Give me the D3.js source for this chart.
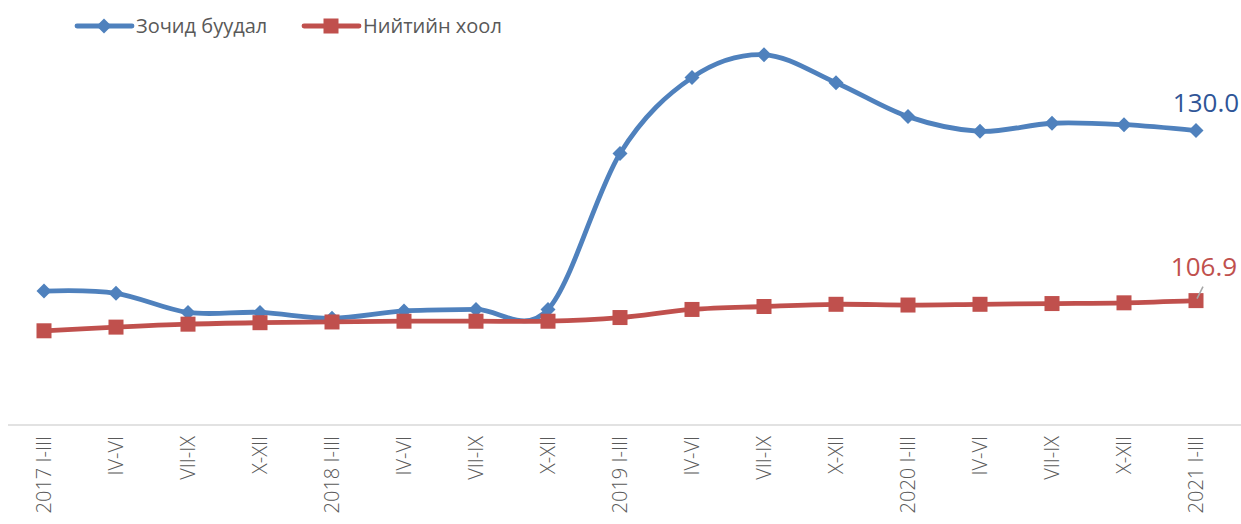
<!DOCTYPE html>
<html>
<head>
<meta charset="utf-8">
<script src="https://cdn.jsdelivr.net/npm/d3@7"></script>
<style>
    body { margin: 0; background: #fff; }
    text { font-family: "Open Sans", "Noto Sans", sans-serif; }
</style>
</head>
<body>
<div id="chart"></div>
<script>
let categories = ["2017 I-III", "IV-VI", "VII-IX", "X-XII", "2018 I-III", "IV-VI", "VII-IX", "X-XII",
    "2019 I-III", "IV-VI", "VII-IX", "X-XII", "2020 I-III", "IV-VI", "VII-IX", "X-XII", "2021 I-III"];
let hotelValues = [108.2, 107.9, 105.3, 105.3, 104.5, 105.5, 105.7, 105.7,
    126.9, 137.2, 140.3, 136.5, 131.9, 129.9, 131.0, 130.8, 130.0];
let foodValues = [102.8, 103.3, 103.7, 103.9, 104.0, 104.1, 104.1, 104.1,
    104.6, 105.7, 106.1, 106.4, 106.3, 106.4, 106.5, 106.6, 106.9];
let seriesNames = ["Зочид буудал", "Нийтийн хоол"];
let yDomain = [90, 145];

let width = 1241, height = 524;
let margin = { "top": 20, "bottom": 99, "left": 8, "right": 9 };
let blue = "#4f81bd", red = "#c0504d";

let svg = d3.select("#chart").append("svg").attr("width", width).attr("height", height);

// categories repeat (IV-VI etc.), so the band scale works on indices
let xScale = d3.scaleBand()
    .domain(d3.range(categories.length))
    .range([margin.left, width - margin.right]);
let yScale = d3.scaleLinear()
    .domain(yDomain)
    .range([height - margin.bottom, height - margin.bottom - (yDomain[1] - yDomain[0]) * 7.36]);

let cx = function (d, i) { return xScale(i) + xScale.bandwidth() / 2; };

// x axis
let xAxis = d3.axisBottom(xScale)
    .tickSize(0)
    .tickPadding(0)
    .tickFormat(function (i) { return categories[i]; });
let gx = svg.append("g")
    .attr("transform", "translate(0," + yScale(yDomain[0]) + ")")
    .call(xAxis);
gx.select(".domain").attr("stroke", "#d9d9d9").attr("stroke-width", 1.5)
    .attr("d", "M" + margin.left + ",0H" + width);
gx.selectAll(".tick text")
    .attr("transform", "rotate(-90)")
    .attr("text-anchor", "end")
    .attr("x", -11)
    .attr("y", 0)
    .attr("dy", "0.35em")
    .attr("fill", "#595959")
    .style("font-size", "20px")
    .style("font-weight", 300)
    .style("font-family", "'Open Sans', sans-serif");

let line = d3.line()
    .x(cx)
    .y(function (d) { return yScale(d); })
    .curve(d3.curveCardinal);

function drawSeries(values, color, marker) {
    svg.append("path")
        .attr("d", line(values))
        .attr("fill", "none")
        .attr("stroke", color)
        .attr("stroke-width", 4.8)
        .attr("stroke-linecap", "round");
    let g = svg.append("g");
    values.forEach(function (v, i) {
        let x = cx(v, i), y = yScale(v);
        if (marker === "diamond") {
            g.append("path")
                .attr("d", "M" + x + "," + (y - 7.5) + "L" + (x + 7.5) + "," + y + "L" + x + "," + (y + 7.5) + "L" + (x - 7.5) + "," + y + "Z")
                .attr("fill", color);
        } else {
            g.append("rect")
                .attr("x", x - 7.5).attr("y", y - 7.5)
                .attr("width", 15).attr("height", 15)
                .attr("fill", color);
        }
    });
}

drawSeries(hotelValues, blue, "diamond");
drawSeries(foodValues, red, "square");

// end labels
let last = categories.length - 1;
svg.append("text")
    .attr("x", cx(0, last) + 10)
    .attr("y", yScale(hotelValues[last]) - 19)
    .attr("text-anchor", "middle")
    .attr("fill", "#2f5597")
    .style("font-size", "26px")
    .text(hotelValues[last].toFixed(1));
svg.append("line")
    .attr("x1", cx(0, last) + 1).attr("y1", yScale(foodValues[last]) - 2)
    .attr("x2", cx(0, last) + 7).attr("y2", yScale(foodValues[last]) - 14)
    .attr("stroke", "#a6a6a6").attr("stroke-width", 1.5);
svg.append("text")
    .attr("x", cx(0, last) + 8)
    .attr("y", yScale(foodValues[last]) - 25)
    .attr("text-anchor", "middle")
    .attr("fill", red)
    .style("font-size", "26px")
    .text(foodValues[last].toFixed(1));

// legend
let legend = svg.append("g").attr("transform", "translate(0,26)");
let legendItems = [
    { name: seriesNames[0], color: blue, marker: "diamond", x: 77 },
    { name: seriesNames[1], color: red, marker: "square", x: 304 }
];
legendItems.forEach(function (item) {
    legend.append("line")
        .attr("x1", item.x).attr("x2", item.x + 55)
        .attr("y1", 0).attr("y2", 0)
        .attr("stroke", item.color).attr("stroke-width", 4.8)
        .attr("stroke-linecap", "round");
    let mx = item.x + 27;
    if (item.marker === "diamond") {
        legend.append("path")
            .attr("d", "M" + mx + ",-7.5L" + (mx + 7.5) + ",0L" + mx + ",7.5L" + (mx - 7.5) + ",0Z")
            .attr("fill", item.color);
    } else {
        legend.append("rect")
            .attr("x", mx - 7.5).attr("y", -7.5).attr("width", 15).attr("height", 15)
            .attr("fill", item.color);
    }
    legend.append("text")
        .attr("x", item.x + 59)
        .attr("y", 0)
        .attr("dy", "0.35em")
        .attr("fill", "#595959")
        .style("font-size", "20px")
        .text(item.name);
});
</script>
</body>
</html>
